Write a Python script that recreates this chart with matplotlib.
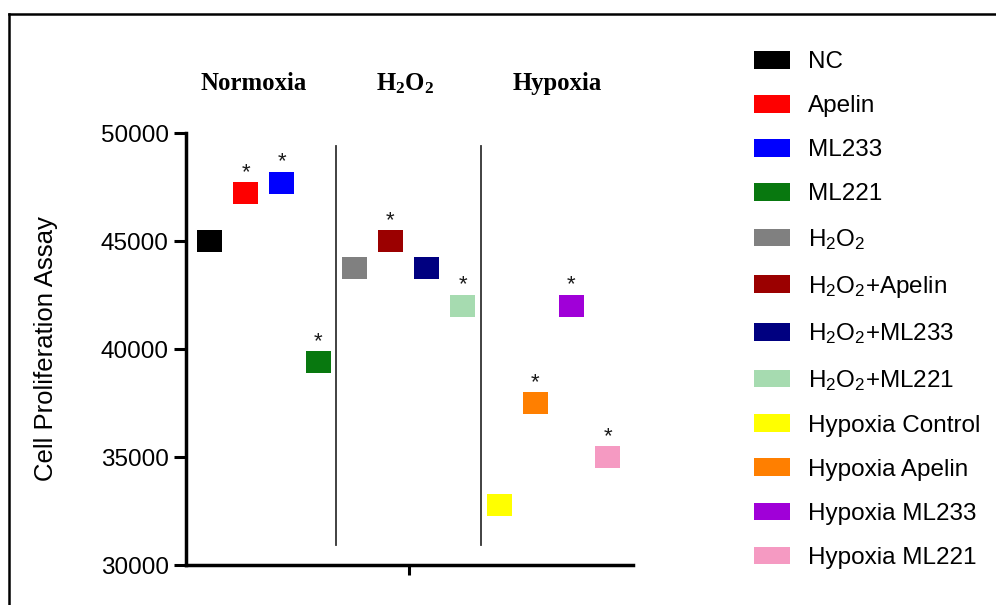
import matplotlib
matplotlib.use("Agg")
import matplotlib.pyplot as plt
from matplotlib.patches import Patch
from matplotlib.lines import Line2D
import numpy as np

plt.rcParams['font.family'] = ['Liberation Sans', 'DejaVu Sans']
plt.rcParams['mathtext.default'] = 'regular'

# Groups and measurements
groups = ["NC", "Apelin", "ML233", "ML221",
          "H$_2$O$_2$", "H$_2$O$_2$+Apelin", "H$_2$O$_2$+ML233", "H$_2$O$_2$+ML221",
          "Hypoxia Control", "Hypoxia Apelin", "Hypoxia ML233", "Hypoxia ML221"]
values = [45000, 47200, 47700, 39400,
          43750, 45000, 43750, 42000,
          32800, 37500, 42000, 35000]
significant = [False, True, True, True,
               False, True, False, True,
               False, True, True, True]
colors = ["#000000", "#fe0000", "#0000fe", "#08780f",
          "#808080", "#9b0000", "#000080", "#a6dbb0",
          "#ffff00", "#ff7f00", "#a000d8", "#f59ac2"]
conditions = ["Normoxia", "H$_2$O$_2$", "Hypoxia"]
y_ticks = [30000, 35000, 40000, 45000, 50000]

fig = plt.figure(figsize=(9.96, 6.05), dpi=100)
ax = fig.add_axes([186 / 996, 1 - 565 / 605, (633 - 186) / 996, (565 - 133) / 605])

x = np.arange(len(values))
box_h = 1020
ax.bar(x, box_h, bottom=np.array(values) - box_h / 2, width=0.69,
       color=colors, edgecolor='none', zorder=3)

for xi, v, s in zip(x, values, significant):
    if s:
        ax.text(xi, v + 700, "*", ha='center', va='baseline', fontsize=16, color='#1a1a1a')

# Dividers between conditions
for xd in [3.5, 7.5]:
    ax.plot([xd, xd], [30930, 49400], color='#333333', lw=1.3, zorder=2)

# Condition headings
for cx, name in zip([1.22, 5.4, 9.62], conditions):
    ax.text(cx, 52300, name, ha='center', va='center', fontsize=17.8,
            fontweight='bold', family='Liberation Serif', clip_on=False)

ax.set_xlim(-0.65, 11.7)
ax.set_ylim(30000, 50000)
ax.set_yticks(y_ticks)
ax.set_yticklabels([str(t) for t in y_ticks], fontsize=17.5)
ax.set_xticks([5.5])
ax.set_xticklabels([""])
ax.tick_params(axis='y', length=9, width=2.2, pad=3.5)
ax.tick_params(axis='x', length=7.5, width=2.2)
for sp in ['top', 'right']:
    ax.spines[sp].set_visible(False)
for sp in ['left', 'bottom']:
    ax.spines[sp].set_linewidth(2.5)
ax.set_ylabel("Cell Proliferation Assay", fontsize=18.5, labelpad=31)

handles = [Patch(facecolor=c, edgecolor='none') for c in colors]
fs = 17.5
em = fs * 100 / 72
fig.legend(handles, groups, loc='upper left', bbox_to_anchor=(754 / 996, 1 - 51 / 605),
           frameon=False, fontsize=fs, borderpad=0, borderaxespad=0,
           handlelength=36 / em, handleheight=18 / em, handletextpad=18 / em,
           labelspacing=(46.0 - em) / em)

# Outer frame edges
fig.add_artist(Line2D([9 / 996, 1.0], [1 - 14 / 605, 1 - 14 / 605], color='black', lw=1.8,
                      transform=fig.transFigure))
fig.add_artist(Line2D([9 / 996, 9 / 996], [0, 1 - 14 / 605], color='black', lw=1.8,
                      transform=fig.transFigure))

fig.savefig("out.png", dpi=100)
